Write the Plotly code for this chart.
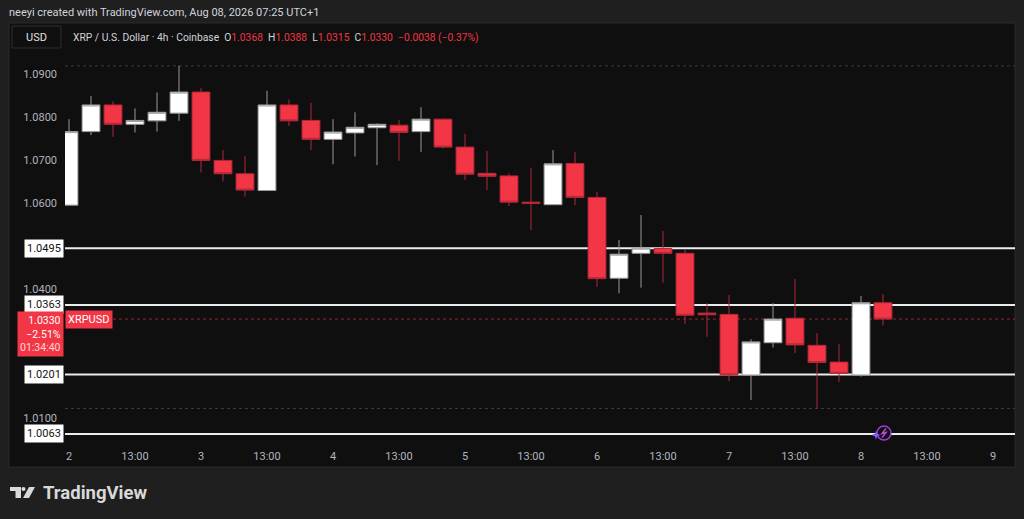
import pandas as pd
import plotly.graph_objects as go

# XRP / USD 4h candles, Aug 2 - Aug 8 2026 (UTC+1)
bar_times = pd.date_range("2026-08-02 01:00", periods=38, freq="4h")
opens = [1.0595, 1.0766, 1.0828, 1.0783, 1.0791, 1.0809, 1.0858, 1.0699, 1.0668, 1.0629,
         1.0828, 1.0792, 1.0748, 1.0763, 1.0775, 1.0781, 1.0766, 1.0795, 1.0730, 1.0669,
         1.0663, 1.0602, 1.0596, 1.0692, 1.0613, 1.0425, 1.0483, 1.0494, 1.0483, 1.0344,
         1.0341, 1.0200, 1.0275, 1.0332, 1.0269, 1.0230, 1.0200, 1.0368]
highs = [1.0795, 1.0849, 1.0836, 1.0820, 1.0857, 1.0919, 1.0867, 1.0723, 1.0709, 1.0861,
         1.0841, 1.0833, 1.0795, 1.0811, 1.0785, 1.0793, 1.0823, 1.0797, 1.0761, 1.0721,
         1.0669, 1.0681, 1.0723, 1.0718, 1.0626, 1.0514, 1.0572, 1.0535, 1.0492, 1.0367,
         1.0386, 1.0283, 1.0367, 1.0423, 1.0297, 1.0272, 1.0384, 1.0388]
lows = [1.0595, 1.0758, 1.0754, 1.0764, 1.0766, 1.0791, 1.0671, 1.0650, 1.0615, 1.0629,
        1.0779, 1.0723, 1.0690, 1.0708, 1.0688, 1.0698, 1.0719, 1.0727, 1.0654, 1.0630,
        1.0593, 1.0537, 1.0596, 1.0595, 1.0405, 1.0390, 1.0403, 1.0415, 1.0319, 1.0289,
        1.0186, 1.0142, 1.0264, 1.0251, 1.0122, 1.0184, 1.0196, 1.0315]
closes = [1.0766, 1.0828, 1.0783, 1.0792, 1.0811, 1.0858, 1.0699, 1.0668, 1.0630, 1.0828,
          1.0791, 1.0748, 1.0765, 1.0776, 1.0783, 1.0764, 1.0795, 1.0730, 1.0667, 1.0662,
          1.0602, 1.0599, 1.0691, 1.0613, 1.0424, 1.0481, 1.0495, 1.0483, 1.0339, 1.0340,
          1.0200, 1.0277, 1.0330, 1.0270, 1.0229, 1.0204, 1.0368, 1.0330]

# horizontal levels drawn on the chart
levels = [1.0495, 1.0363, 1.0201, 1.0063]

y_ticks = [1.0100, 1.0400, 1.0600, 1.0700, 1.0800, 1.0900]
x_ticks = pd.date_range("2026-08-02 01:00", "2026-08-09 01:00", freq="12h")
x_tick_labels = ["2", "13:00", "3", "13:00", "4", "13:00", "5", "13:00",
                 "6", "13:00", "7", "13:00", "8", "13:00", "9"]

RED = "#f23645"
PANEL = "#0f0f0f"
FONT = "Roboto"

# plot area in pixels: x 65..1015, y 23..444
L, R, T, B = 65, 1015, 23, 444


def px(x):
    return (x - L) / (R - L)


def py(y):
    return (B - y) / (B - T)


fig = go.Figure()
fig.add_trace(go.Candlestick(
    x=bar_times, open=opens, high=highs, low=lows, close=closes,
    increasing=dict(fillcolor="#ffffff", line=dict(color="#9a9a9a", width=1)),
    decreasing=dict(fillcolor=RED, line=dict(color="#b3283a", width=1)),
    whiskerwidth=0, showlegend=False, hoverinfo="skip",
))

shapes = []
# chart panel
shapes.append(dict(type="rect", xref="paper", yref="paper", x0=px(9), x1=px(1015),
                   y0=py(23), y1=py(467), fillcolor=PANEL,
                   line=dict(color="#2a2a2a", width=1), layer="below"))
# visible high / low dotted lines
for v in [max(highs), min(lows)]:
    shapes.append(dict(type="line", xref="paper", yref="y", x0=0, x1=1, y0=v, y1=v,
                       line=dict(color="#3c3c3c", width=1, dash="dot"), layer="below"))
# last price dotted line
shapes.append(dict(type="line", xref="paper", yref="y", x0=0, x1=1,
                   y0=closes[-1], y1=closes[-1],
                   line=dict(color="rgba(242,54,69,0.6)", width=1, dash="dot"), layer="below"))
# drawn levels
for v in levels:
    shapes.append(dict(type="line", xref="paper", yref="y", x0=0, x1=1, y0=v, y1=v,
                       line=dict(color="#ececec", width=2), layer="below"))
# USD box
shapes.append(dict(type="rect", xref="paper", yref="paper", x0=px(12), x1=px(61),
                   y0=py(26), y1=py(48), fillcolor=PANEL,
                   line=dict(color="#2e2e2e", width=1)))
# lightning icon
shapes.append(dict(type="circle", xref="paper", yref="paper", x0=px(877), x1=px(891),
                   y0=py(426), y1=py(440), fillcolor=PANEL,
                   line=dict(color="#a03ccf", width=1.5)))


def path(points, close=True):
    s = "M " + " L ".join(f"{px(a)},{py(b)}" for a, b in points)
    return s + (" Z" if close else "")


shapes.append(dict(type="path", xref="paper", yref="paper",
                   path=path([(886, 428.5), (882, 433.5), (886, 432.5), (882, 437.5)], close=False),
                   line=dict(color="#b04ad8", width=1.5)))
# small sparkle next to the icon
cx, cy = 876, 435
shapes.append(dict(type="path", xref="paper", yref="paper",
                   path=path([(cx, cy - 4.5), (cx + 1.2, cy - 1.2), (cx + 4.5, cy), (cx + 1.2, cy + 1.2),
                              (cx, cy + 4.5), (cx - 1.2, cy + 1.2), (cx - 4.5, cy), (cx - 1.2, cy - 1.2)]),
                   fillcolor="#7d5cff", line=dict(width=0)))
# TradingView logo
shapes.append(dict(type="path", xref="paper", yref="paper",
                   path=path([(10, 487), (21, 487), (21, 498), (15.5, 498), (15.5, 491), (10, 491)]),
                   fillcolor="#d9d9d9", line=dict(width=0)))
shapes.append(dict(type="circle", xref="paper", yref="paper", x0=px(21.5), x1=px(25.5),
                   y0=py(487), y1=py(491), fillcolor="#d9d9d9", line=dict(width=0)))
shapes.append(dict(type="path", xref="paper", yref="paper",
                   path=path([(29, 487), (35, 487), (29, 498), (23, 498)]),
                   fillcolor="#d9d9d9", line=dict(width=0)))

annotations = []
annotations.append(dict(xref="paper", yref="paper", x=px(7), y=py(13), xanchor="left",
                        yanchor="middle", showarrow=False,
                        text="neeyi created with TradingView.com, Aug 08, 2026 07:25 UTC+1",
                        font=dict(family=FONT, size=11, color="#d1d4dc")))
annotations.append(dict(xref="paper", yref="paper", x=px(36.5), y=py(37), xanchor="center",
                        yanchor="middle", showarrow=False, text="USD",
                        font=dict(family=FONT, size=11, color="#e0e0e0")))

chg = closes[-1] - closes[-2]
pct = chg / closes[-2] * 100


def red(s):
    return f"<span style='color:{RED}'>{s}</span>"


legend_txt = ("XRP / U.S. Dollar · 4h · Coinbase  "
              f"O{red(f'{opens[-1]:.4f}')}  H{red(f'{highs[-1]:.4f}')}  "
              f"L{red(f'{lows[-1]:.4f}')}  C{red(f'{closes[-1]:.4f}')}  "
              + red(f"{chg:+.4f} ({pct:+.2f}%)".replace("-", "−")))
annotations.append(dict(xref="paper", yref="paper", x=px(71), y=py(37), xanchor="left",
                        yanchor="middle", showarrow=False, text=legend_txt,
                        font=dict(family=FONT, size=10.3, color="#d1d4dc")))

# level labels on the price scale
for v in levels:
    annotations.append(dict(xref="paper", yref="y", x=px(64), y=v, xanchor="right",
                            yanchor="middle", showarrow=False, text=f"{v:.4f}",
                            bgcolor="#ffffff", borderpad=2,
                            font=dict(family=FONT, size=11, color="#131313")))

# last price label
annotations.append(dict(xref="paper", yref="y", x=px(64), y=closes[-1], xanchor="right",
                        yanchor="top", yshift=8, showarrow=False, align="right",
                        text=f"{closes[-1]:.4f}<br>−2.51%<br><span style='color:#ffd6da'>01:34:40</span>",
                        bgcolor=RED, borderpad=2,
                        font=dict(family=FONT, size=10.5, color="#ffffff")))
annotations.append(dict(xref="paper", yref="y", x=px(65), y=closes[-1], xanchor="left",
                        yanchor="middle", showarrow=False, text="XRPUSD",
                        bgcolor=RED, borderpad=2,
                        font=dict(family=FONT, size=11, color="#ffffff")))

# logo text
annotations.append(dict(xref="paper", yref="paper", x=px(41), y=py(493), xanchor="left",
                        yanchor="middle", showarrow=False, text="<b>TradingView</b>",
                        font=dict(family=FONT, size=18.5, color="#d9d9d9")))

fig.update_layout(
    width=1024, height=519,
    margin=dict(l=L, r=1024 - R, t=T, b=519 - B),
    paper_bgcolor="#1f1f1f", plot_bgcolor=PANEL,
    boxgap=0.1, boxgroupgap=0.1,
    shapes=shapes, annotations=annotations,
    xaxis=dict(type="date", range=["2026-08-02 00:16:22", "2026-08-09 05:00"],
               rangeslider=dict(visible=False), showgrid=False, zeroline=False,
               showline=False, tickvals=list(x_ticks), ticktext=x_tick_labels,
               tickfont=dict(family=FONT, size=11, color="#b2b5be"),
               ticks="", ticklabelstandoff=4),
    yaxis=dict(range=[1.00395, 1.10186], showgrid=False, zeroline=False, showline=False,
               side="left", tickvals=y_ticks, ticktext=[f"{v:.4f}" for v in y_ticks],
               tickfont=dict(family=FONT, size=11, color="#b2b5be"),
               ticks="", ticklabelstandoff=7),
    font=dict(family=FONT),
)

# page body has a default 8px margin; drop it so the figure fills the window
fig.write_html("out.html", config={"displayModeBar": False},
               post_script="document.body.style.margin='0px';")
